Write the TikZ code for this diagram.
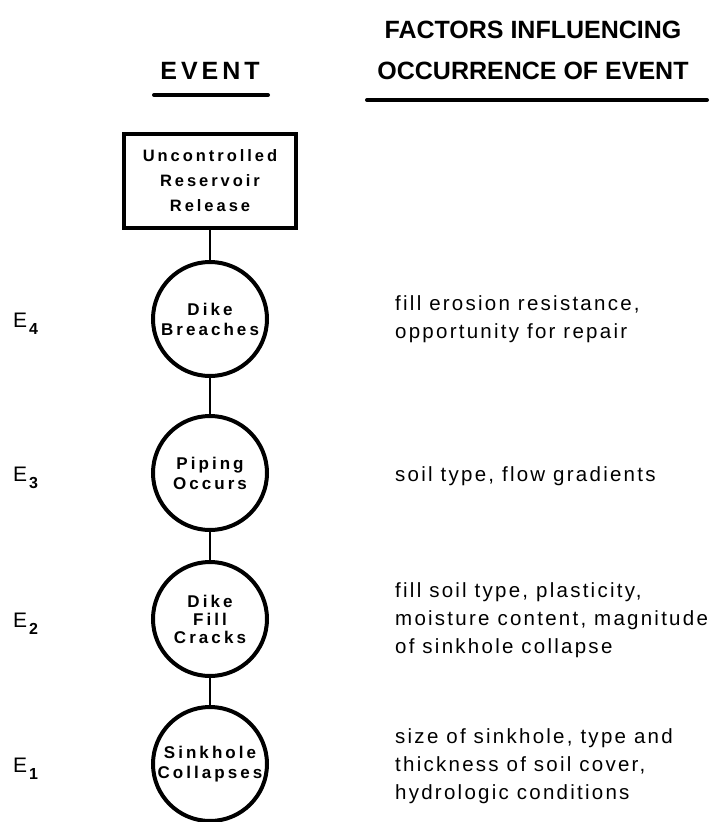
\documentclass[tikz,border=0pt]{standalone}
\usepackage{fontspec}
\setmainfont{Liberation Sans}
\newfontfamily\evtfam[LetterSpace=18]{Liberation Sans}
\newfontfamily\factfam[LetterSpace=11]{Liberation Sans}
\newfontfamily\wideheadfam[LetterSpace=16]{Liberation Sans}
\usepackage{tikz}

\newcommand\evtfont{\evtfam\bfseries\fontsize{17}{20}\selectfont}
\newcommand\boxfont{\evtfam\bfseries\fontsize{16.5}{25}\selectfont}
\newcommand\factfont{\factfam\fontsize{20.5}{28}\selectfont}
\newcommand\labfont{\fontsize{21}{21}\selectfont}
\newcommand\headfont{\bfseries\fontsize{25}{30}\selectfont}
\newcommand\esub[1]{E\hspace{2pt}\raisebox{-7pt}{\bfseries\fontsize{16}{16}\selectfont #1}}

\begin{document}
\begin{tikzpicture}[x=1pt, y=-1pt,
    evt/.style={circle, draw, line width=4pt, minimum size=114pt, inner sep=0pt, align=center, font=\evtfont},
    relbox/.style={rectangle, draw, line width=4pt, minimum width=172pt, minimum height=94pt, align=center, font=\boxfont},
    factor/.style={anchor=west, inner sep=0pt, align=left, font=\factfont},
    elabel/.style={anchor=base west, inner sep=0pt, font=\labfont},
    head/.style={anchor=base, inner sep=0pt, font=\headfont},
    rule/.style={line width=4pt, line cap=round},
    conn/.style={line width=2pt}
]
    \useasboundingbox (0,0) rectangle (711,822);

    % Headings
    \node[head, font=\headfont\wideheadfam\bfseries] (hevent) at (210,79) {EVENT};
    \node[head] (hfact1) at (533,38) {FACTORS INFLUENCING};
    \node[head] (hfact2) at (533,79) {OCCURRENCE OF EVENT};
    \draw[rule] (154,95) -- (268,95);
    \draw[rule] (367,100) -- (707,100);

    % Event tree
    \node[relbox] (release) at (210,181) {Uncontrolled\\Reservoir\\Release};
    \node[evt] (e4) at (210,319) {Dike\\Breaches};
    \node[evt] (e3) at (210,473) {Piping\\Occurs};
    \node[evt] (e2) at (210,619) {Dike\\[-2pt]Fill\\[-2pt]Cracks};
    \node[evt] (e1) at (210,764) {Sinkhole\\Collapses};

    \draw[conn] (release) -- (e4);
    \draw[conn] (e4) -- (e3);
    \draw[conn] (e3) -- (e2);
    \draw[conn] (e2) -- (e1);

    % Labels
    \node[elabel] (l4) at (13,327) {\esub{4}};
    \node[elabel] (l3) at (13,481) {\esub{3}};
    \node[elabel] (l2) at (13,627) {\esub{2}};
    \node[elabel] (l1) at (13,772) {\esub{1}};

    % Factors
    \node[factor] (f4) at (395,319) {fill erosion resistance,\\opportunity for repair};
    \node[factor] (f3) at (395,476) {soil type, flow gradients};
    \node[factor] (f2) at (395,620) {fill soil type, plasticity,\\moisture content, magnitude\\of sinkhole collapse};
    \node[factor] (f1) at (395,766) {size of sinkhole, type and\\thickness of soil cover,\\hydrologic conditions};
\end{tikzpicture}
\end{document}
